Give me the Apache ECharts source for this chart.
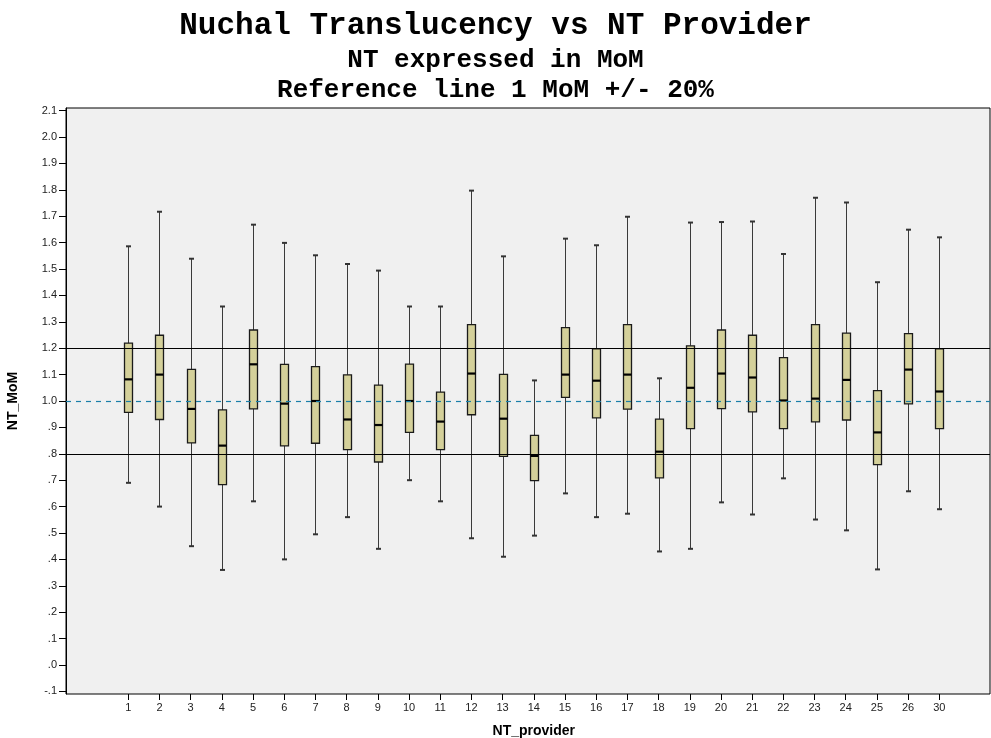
<!DOCTYPE html>
<html lang="en">
<head>
	<meta charset="UTF-8">
	<title>NT MoM by provider</title>
	<script type="text/javascript" src="https://cdn.jsdelivr.net/npm/echarts@6/dist/echarts.min.js"></script>
	<style>
		html, body { margin: 0; padding: 0; background: #fff; }
	</style>
</head>
<body>
	<div id="main" style="width: 991px;height: 738px;"></div>
	<script type="text/javascript">
		// values (NT in MoM)
		var providers = ['1', '2', '3', '4', '5', '6', '7', '8', '9', '10', '11', '12', '13', '14', '15',
			'16', '17', '18', '19', '20', '21', '22', '23', '24', '25', '26', '30'];
		var whiskerLow = [0.69, 0.60, 0.45, 0.36, 0.62, 0.40, 0.495, 0.56, 0.44, 0.70, 0.62, 0.48, 0.41, 0.49,
			0.65, 0.56, 0.573, 0.43, 0.44, 0.616, 0.57, 0.707, 0.551, 0.51, 0.362, 0.658, 0.59];
		var q1 = [0.957, 0.93, 0.841, 0.683, 0.97, 0.83, 0.84, 0.816, 0.769, 0.881, 0.816, 0.948, 0.79, 0.698,
			1.014, 0.936, 0.969, 0.709, 0.895, 0.971, 0.959, 0.895, 0.921, 0.928, 0.759, 0.989, 0.895];
		var median = [1.082, 1.10, 0.97, 0.831, 1.139, 0.99, 1.0, 0.93, 0.909, 1.0, 0.922, 1.104, 0.933, 0.792,
			1.10, 1.077, 1.10, 0.808, 1.05, 1.104, 1.089, 1.002, 1.009, 1.08, 0.881, 1.119, 1.036];
		var q3 = [1.219, 1.249, 1.12, 0.966, 1.269, 1.139, 1.13, 1.099, 1.06, 1.14, 1.034, 1.289, 1.101, 0.87,
			1.278, 1.198, 1.289, 0.931, 1.209, 1.269, 1.249, 1.164, 1.289, 1.257, 1.039, 1.255, 1.198];
		var whiskerHigh = [1.586, 1.717, 1.539, 1.358, 1.668, 1.599, 1.552, 1.519, 1.494, 1.358, 1.358, 1.797, 1.548, 1.078,
			1.615, 1.59, 1.698, 1.086, 1.676, 1.678, 1.68, 1.557, 1.77, 1.752, 1.45, 1.649, 1.62];
		var yTicks = [-0.1, 0, 0.1, 0.2, 0.3, 0.4, 0.5, 0.6, 0.7, 0.8, 0.9, 1.0, 1.1, 1.2,
			1.3, 1.4, 1.5, 1.6, 1.7, 1.8, 1.9, 2.0, 2.1];
		var refLines = [0.8, 1.2];
		var refCenter = 1.0;

		var boxData = providers.map(function (p, i) {
			return [i, whiskerLow[i], q1[i], median[i], q3[i], whiskerHigh[i]];
		});

		function fmtTick(v) {
			var s = v.toFixed(1);
			if (Math.abs(v) < 1) s = s.replace('0.', '.');
			return s;
		}

		function renderBox(params, api) {
			var i = api.value(0);
			var lo = api.coord([i, api.value(1)]);
			var b1 = api.coord([i, api.value(2)]);
			var md = api.coord([i, api.value(3)]);
			var b3 = api.coord([i, api.value(4)]);
			var hi = api.coord([i, api.value(5)]);
			var cx = Math.round(lo[0]) + 0.5;
			var bw = 8, cw = 2.5;
			var wStyle = { stroke: '#3a3a3a', lineWidth: 1 };
			return {
				type: 'group',
				children: [
					{ type: 'line', shape: { x1: cx, y1: hi[1], x2: cx, y2: b3[1] }, style: wStyle },
					{ type: 'line', shape: { x1: cx, y1: b1[1], x2: cx, y2: lo[1] }, style: wStyle },
					{ type: 'line', shape: { x1: cx - cw, y1: hi[1], x2: cx + cw, y2: hi[1] }, style: { stroke: '#333', lineWidth: 2 } },
					{ type: 'line', shape: { x1: cx - cw, y1: lo[1], x2: cx + cw, y2: lo[1] }, style: { stroke: '#333', lineWidth: 2 } },
					{ type: 'rect', shape: { x: cx - bw / 2, y: b3[1], width: bw, height: b1[1] - b3[1] },
						style: { fill: '#d4d09a', stroke: '#1a1a1a', lineWidth: 1.3 } },
					{ type: 'line', shape: { x1: cx - bw / 2, y1: md[1], x2: cx + bw / 2, y2: md[1] }, style: { stroke: '#000', lineWidth: 2.2 } }
				]
			};
		}

		var myChart = echarts.init(document.getElementById('main'));
		var option = {
			animation: false,
			title: [
				{ text: 'Nuchal Translucency vs NT Provider', left: 'center', top: 6,
					textStyle: { fontFamily: 'Liberation Mono', fontWeight: 'bold', fontSize: 31, color: '#000' } },
				{ text: 'NT expressed in MoM', left: 'center', top: 42,
					textStyle: { fontFamily: 'Liberation Mono', fontWeight: 'bold', fontSize: 26, color: '#000' } },
				{ text: 'Reference line 1 MoM +/- 20%', left: 'center', top: 72,
					textStyle: { fontFamily: 'Liberation Mono', fontWeight: 'bold', fontSize: 26, color: '#000' } }
			],
			grid: [
				{ left: 66, top: 108, width: 924, height: 586, show: true, backgroundColor: '#f0f0f0',
					borderColor: '#000', borderWidth: 1, outerBoundsMode: 'none' },
				{ left: 112.7, top: 108, width: 842.2, height: 586, outerBoundsMode: 'none' }
			],
			xAxis: [
				{ type: 'value', gridIndex: 0, min: 0, max: 1, show: false },
				{
					type: 'category', gridIndex: 1, data: providers, position: 'bottom',
					name: 'NT_provider', nameLocation: 'middle', nameGap: 30,
					nameTextStyle: { fontFamily: 'Liberation Sans', fontWeight: 'bold', fontSize: 14, color: '#000' },
					axisLine: { show: false, onZero: false },
					axisTick: { show: true, alignWithLabel: true, length: 6, lineStyle: { color: '#000' } },
					axisLabel: { interval: 0, margin: 8, fontFamily: 'Liberation Sans', fontSize: 11, color: '#222' },
					splitLine: { show: false }
				}
			],
			yAxis: [
				{
					type: 'value', gridIndex: 0, min: -0.11, max: 2.11,
					name: 'NT_MoM', nameLocation: 'middle', nameGap: 46, nameRotate: 90,
					nameTextStyle: { fontFamily: 'Liberation Sans', fontWeight: 'bold', fontSize: 14, color: '#000' },
					axisLine: { show: true, onZero: false, lineStyle: { color: '#000' } },
					axisTick: { show: true, length: 7, customValues: yTicks, lineStyle: { color: '#000' } },
					axisLabel: { customValues: yTicks, formatter: fmtTick, margin: 9,
						fontFamily: 'Liberation Sans', fontSize: 11, color: '#222' },
					splitLine: { show: false }
				},
				{ type: 'value', gridIndex: 1, min: -0.11, max: 2.11, show: false, splitLine: { show: false } }
			],
			series: [
				{
					type: 'custom', name: 'NT_MoM', xAxisIndex: 1, yAxisIndex: 1,
					renderItem: renderBox, data: boxData, z: 3
				},
				{
					type: 'line', xAxisIndex: 0, yAxisIndex: 0, data: [], z: 5,
					markLine: {
						silent: true, symbol: 'none', label: { show: false }, animation: false,
						data: refLines.map(function (v) {
							return { yAxis: v, lineStyle: { color: '#000', width: 1, type: 'solid' } };
						}).concat([{ yAxis: refCenter, lineStyle: { color: '#1a7ea8', width: 1.2, type: [5, 5] } }])
					}
				}
			]
		};
		myChart.setOption(option);
	</script>
</body>
</html>
